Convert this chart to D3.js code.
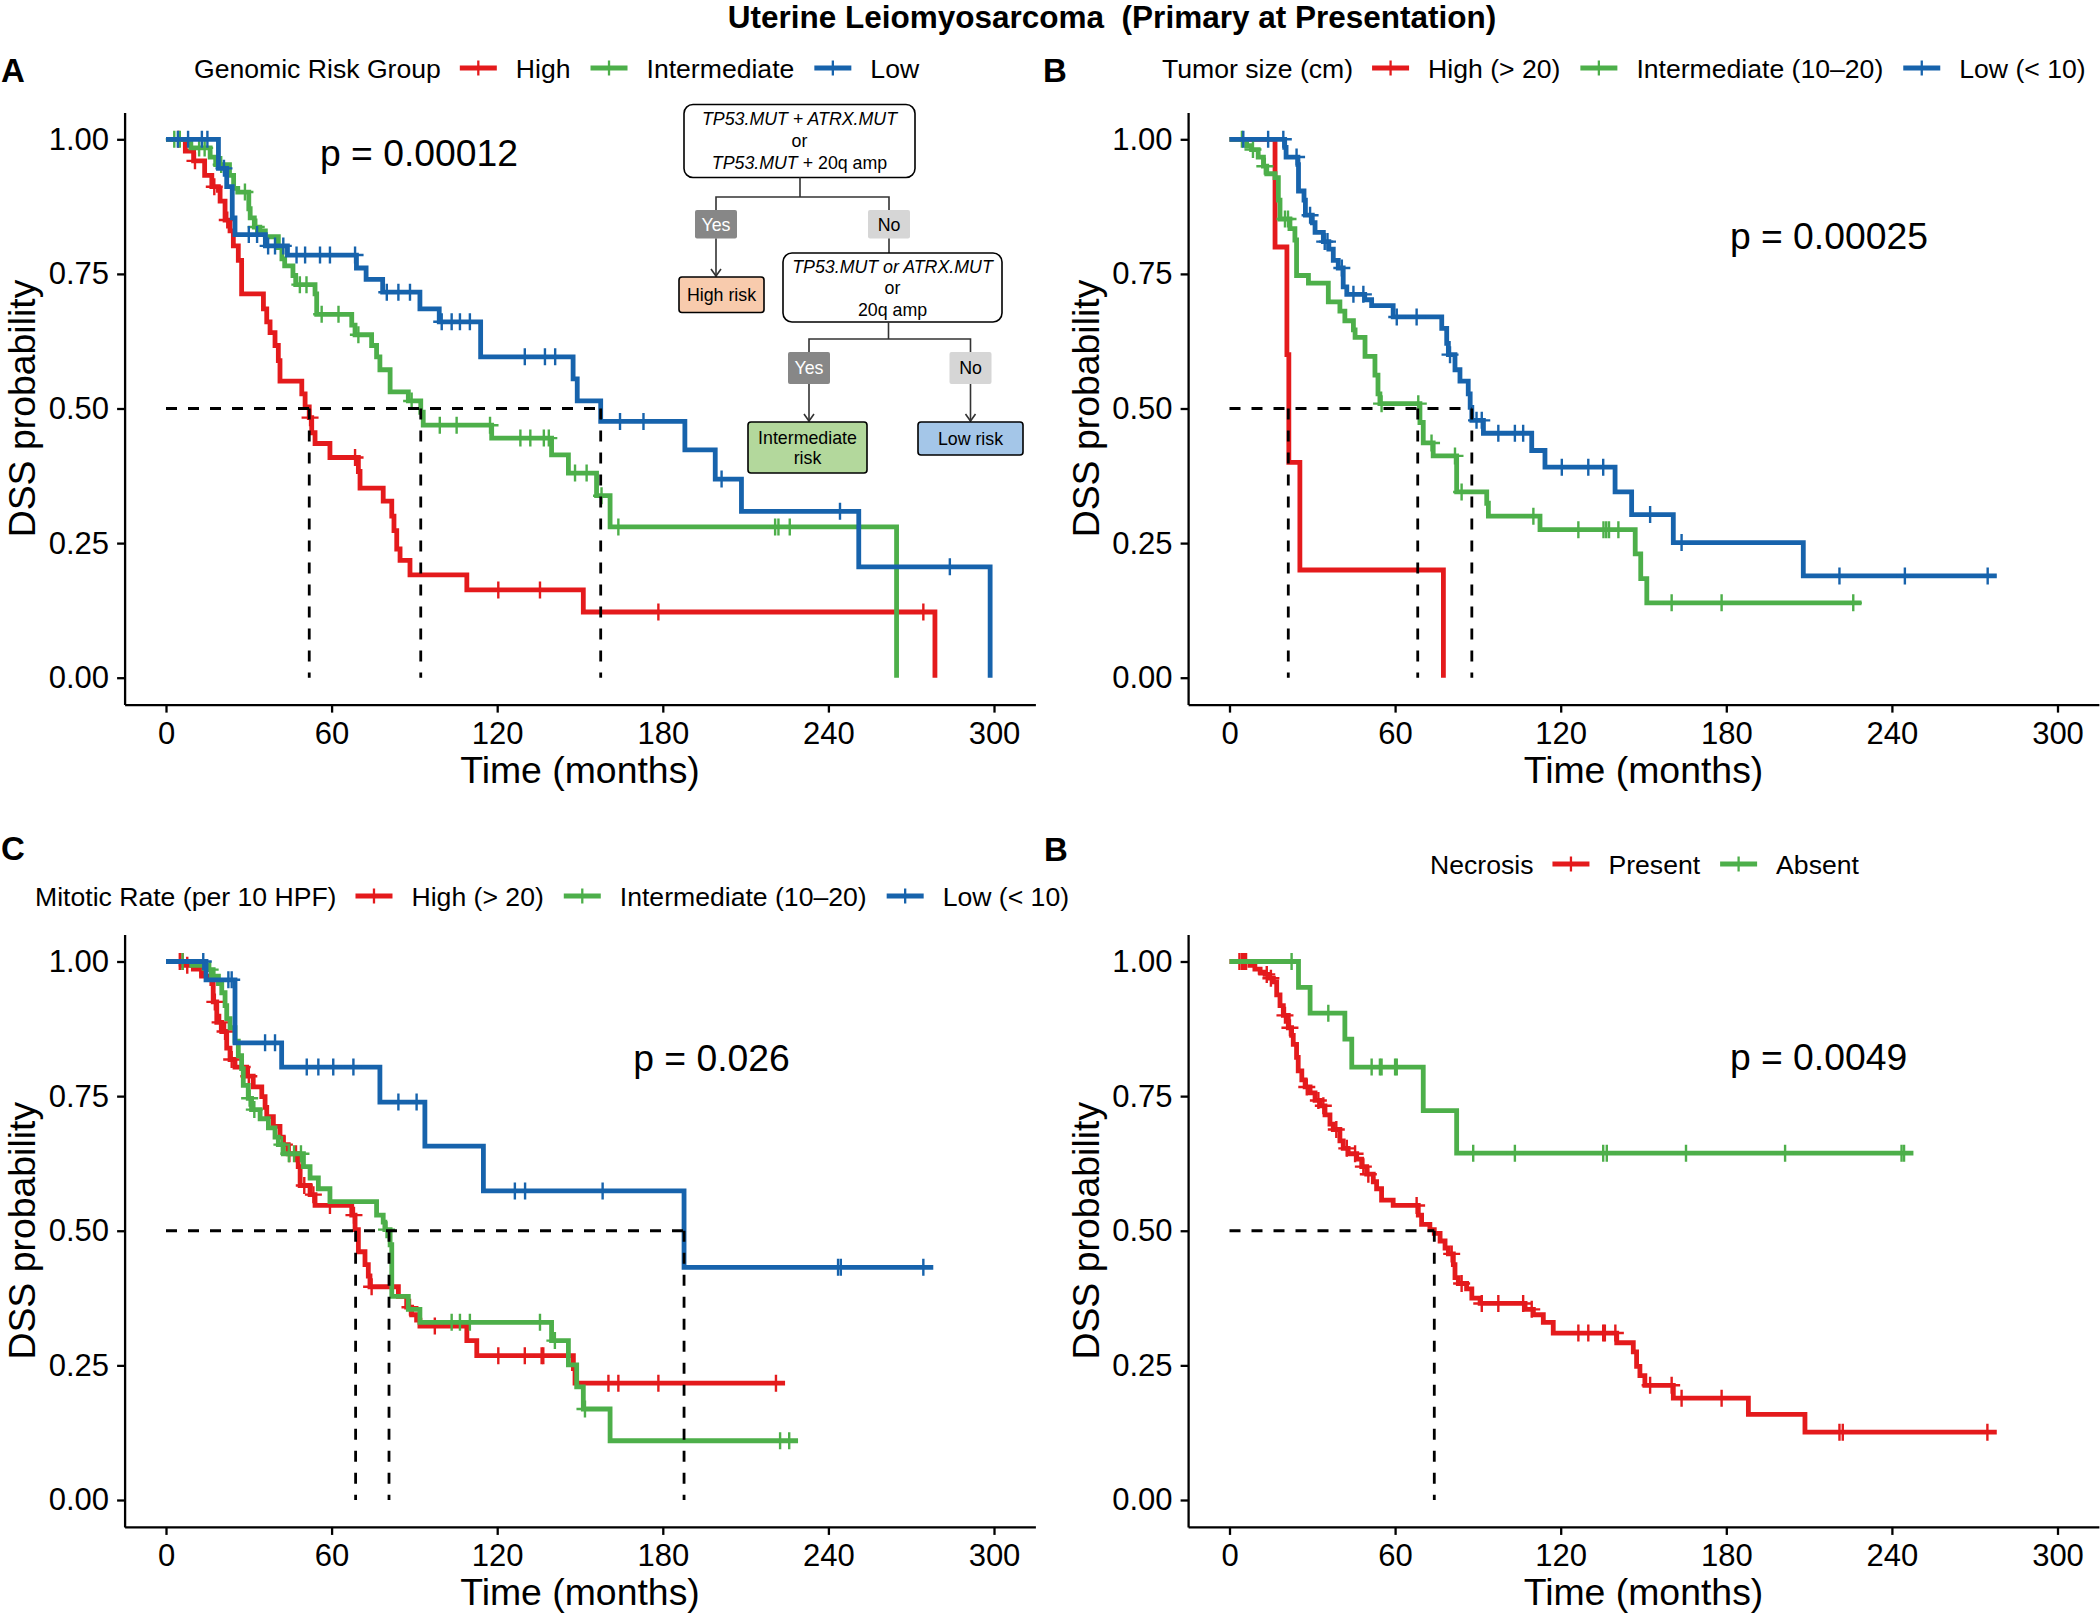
<!DOCTYPE html>
<html>
<head>
<meta charset="utf-8">
<script src="https://cdn.jsdelivr.net/npm/d3@7/dist/d3.min.js"></script>
<style>
html,body{margin:0;padding:0;background:#ffffff;}
svg text{font-family:"Liberation Sans",Arial,Helvetica,sans-serif;}
</style>
</head>
<body>
<svg id="chart" width="2100" height="1614" xmlns="http://www.w3.org/2000/svg"></svg>
<script>
// ---------------- DATA ----------------
const chartTitle = "Uterine Leiomyosarcoma  (Primary at Presentation)";
const timeTicks = [0, 60, 120, 180, 240, 300];
const survTicks = [0, 0.25, 0.5, 0.75, 1];
const groupColors = ["#E41A1C", "#4DAF4A", "#1763AC"];
const xAxisTitle = "Time (months)";
const yAxisTitle = "DSS probability";

// Panel A – Genomic Risk Group
const aTitle = "Genomic Risk Group";
const aNames = ["High", "Intermediate", "Low"];
const aHighT = [7, 10, 14, 16.6, 19, 19.6, 21.4, 23.2, 24.4, 26.2, 27.4, 35.3, 36.5, 37.7, 39.5, 40.7, 41.3, 49.2, 50.4, 51.9, 52.8, 54, 59.4, 69.7, 70.3, 78.7, 81.8, 82.6, 83.6, 84.8, 88.4, 109, 151.2, 278.6];
const aHighS = [0.978, 0.960, 0.933, 0.912, 0.905, 0.885, 0.850, 0.830, 0.802, 0.775, 0.713, 0.685, 0.661, 0.641, 0.617, 0.589, 0.551, 0.527, 0.503, 0.483, 0.455, 0.435, 0.409, 0.383, 0.352, 0.328, 0.300, 0.273, 0.239, 0.218, 0.191, 0.163, 0.122, 0];
const aHighCens = [4.5, 10.5, 17.5, 22.2, 52.2, 68.5, 120.4, 135.5, 178.4, 274.4];
const aHighEnd = 278.6;
const aIntT = [9, 16, 18, 23, 24.5, 26, 30, 30.5, 32, 34, 36, 40.7, 42, 43, 46, 47, 54, 54.6, 67.3, 68.5, 74.5, 76.3, 77.5, 81.2, 87.8, 92.3, 93.2, 118, 139.7, 145.8, 156, 160.9, 264.7];
const aIntS = [0.984, 0.967, 0.953, 0.933, 0.909, 0.902, 0.871, 0.854, 0.837, 0.830, 0.819, 0.799, 0.778, 0.765, 0.747, 0.730, 0.713, 0.675, 0.655, 0.637, 0.617, 0.596, 0.572, 0.531, 0.514, 0.493, 0.469, 0.445, 0.414, 0.380, 0.338, 0.280, 0];
const aIntCens = [3, 5, 12, 14, 20, 28.6, 32.7, 48.5, 50.9, 56.4, 62.5, 69.7, 89, 99.2, 105.3, 117.4, 128.4, 132, 136.9, 138.7, 148.2, 152.4, 157.8, 163.9, 220.7, 221.9, 226];
const aIntEnd = 264.7;
const aLowT = [19, 22, 24, 25, 36, 44, 69, 72.5, 78.5, 92, 99, 114, 147.5, 149, 157.5, 188, 199, 208.5, 251, 298.6];
const aLowS = [0.946, 0.912, 0.854, 0.823, 0.802, 0.785, 0.761, 0.740, 0.716, 0.685, 0.661, 0.596, 0.555, 0.514, 0.476, 0.423, 0.369, 0.309, 0.206, 0];
const aLowCens = [4.3, 8, 13, 15, 21, 30, 33, 37, 39.5, 42.5, 47.3, 50.4, 55.8, 59.4, 68.5, 80, 84.2, 88.4, 99.9, 103.5, 106.5, 110.1, 130, 137.3, 141, 164.5, 173, 201.3, 244.2, 284];
const aLowEnd = 298.6;
const aMedians = [51.9, 92.3, 157.5];
const aPval = "p = 0.00012";

// Panel B – Tumor size
const bTitle = "Tumor size (cm)";
const bNames = ["High (> 20)", "Intermediate (10\u201320)", "Low (< 10)"];
const bHighT = [16.5, 20.8, 21.5, 25.5, 77.5];
const bHighS = [0.8, 0.6, 0.4, 0.2, 0];
const bHighCens = [];
const bHighEnd = 77.5;
const bIntT = [6.2, 8, 10.4, 12.3, 13.5, 16.5, 17.7, 18.3, 21.9, 23.7, 24.3, 28.6, 35.8, 40, 41.8, 44.9, 45.5, 49.1, 52.7, 53.8, 54.5, 69, 70.2, 73.8, 82.3, 93.2, 93.8, 112.5, 147, 149, 151.2];
const bIntS = [0.988, 0.981, 0.967, 0.950, 0.936, 0.929, 0.887, 0.852, 0.834, 0.813, 0.747, 0.733, 0.698, 0.681, 0.663, 0.646, 0.632, 0.597, 0.562, 0.527, 0.509, 0.474, 0.436, 0.412, 0.345, 0.324, 0.300, 0.275, 0.230, 0.184, 0.139];
const bIntCens = [4.5, 8.5, 12.8, 20.1, 21.2, 55.1, 68.4, 73.2, 81.7, 84.1, 110.1, 126.4, 135.5, 136.5, 137.5, 140.9, 160.2, 178.3, 226];
const bIntEnd = 229;
const bLowT = [20, 20.5, 24.8, 25, 27, 27.5, 30, 31, 34, 36, 37.6, 39.4, 41.2, 42.5, 49, 51.5, 59.3, 76.9, 78.7, 79.3, 81.7, 83.5, 86.5, 87.2, 87.8, 92, 109.5, 114.3, 139.7, 145.7, 160.8, 207.9];
const bLowS = [0.985, 0.967, 0.953, 0.904, 0.887, 0.859, 0.845, 0.827, 0.810, 0.796, 0.775, 0.761, 0.726, 0.712, 0.702, 0.691, 0.670, 0.649, 0.621, 0.600, 0.572, 0.551, 0.527, 0.502, 0.478, 0.454, 0.422, 0.391, 0.345, 0.303, 0.251, 0.189];
const bLowCens = [5, 14, 19.5, 24.3, 29.2, 34.5, 35.5, 40.7, 44.9, 48.5, 60.6, 67.8, 79.9, 89.5, 91.4, 97.4, 103.4, 106.4, 120.4, 130, 135.4, 152.4, 163.8, 221, 244.7, 274.7];
const bLowEnd = 278;
const bMedians = [21.3, 68.2, 87.8];
const bPval = "p = 0.00025";

// Panel C – Mitotic rate
const cTitle = "Mitotic Rate (per 10 HPF)";
const cNames = ["High (> 20)", "Intermediate (10\u201320)", "Low (< 10)"];
const cHighT = [6.3, 9.9, 12.9, 16.6, 17.1, 18.4, 20.2, 22, 23.2, 25, 29.2, 31.6, 34.7, 35.9, 36.5, 38.9, 41.3, 42.5, 44.3, 47.9, 48.6, 52.2, 54, 67.3, 68.5, 69.7, 72.1, 73.3, 73.9, 84.2, 87.2, 89, 90.8, 92, 109, 112.6, 147.6, 148.2];
const cHighS = [0.993, 0.986, 0.973, 0.959, 0.925, 0.887, 0.870, 0.839, 0.818, 0.804, 0.787, 0.767, 0.749, 0.729, 0.712, 0.694, 0.674, 0.660, 0.643, 0.619, 0.584, 0.567, 0.547, 0.529, 0.502, 0.461, 0.437, 0.416, 0.396, 0.378, 0.358, 0.344, 0.334, 0.323, 0.296, 0.268, 0.244, 0.217];
const cHighCens = [5, 6, 7.7, 12.5, 17.7, 19.6, 21.4, 23.8, 27.6, 30, 42.9, 44.7, 47.1, 50.1, 53.4, 59.4, 68.1, 74.5, 88.4, 97.4, 120.4, 130, 136.1, 136.7, 160.3, 163.9, 178.4, 221];
const cHighEnd = 224.3;
const cIntT = [9.3, 15.3, 17.1, 19, 20.2, 21.4, 22, 23.2, 25, 26.2, 27.4, 28, 29.8, 31, 34.1, 37.1, 39.5, 40.7, 42.5, 49.8, 52.2, 55.2, 59.4, 76.3, 78.7, 79.3, 81.2, 81.8, 87.8, 92, 139.7, 145.8, 148.8, 151.2, 160.9];
const cIntS = [0.993, 0.985, 0.973, 0.959, 0.942, 0.918, 0.894, 0.877, 0.852, 0.825, 0.801, 0.770, 0.746, 0.725, 0.708, 0.691, 0.674, 0.660, 0.643, 0.619, 0.598, 0.578, 0.554, 0.529, 0.516, 0.502, 0.474, 0.378, 0.354, 0.330, 0.296, 0.251, 0.210, 0.169, 0.110];
const cIntCens = [6, 16, 30.3, 32, 42, 44.5, 46.4, 48.9, 79.9, 103.5, 106.5, 110.1, 135.5, 140.9, 151.8, 222.5, 225.8];
const cIntEnd = 229;
const cLowT = [14.5, 25, 41.9, 77.5, 93.8, 115, 187.7];
const cLowS = [0.966, 0.849, 0.804, 0.739, 0.657, 0.574, 0.432];
const cLowCens = [13.5, 22.6, 23.8, 35.9, 39.5, 51, 55.2, 60.6, 67.9, 84.2, 90.8, 126.4, 130.1, 158.2, 243.5, 244.5, 274.4];
const cLowEnd = 278;
const cMedians = [68.7, 80.8, 187.7];
const cPval = "p = 0.026";

// Panel D (labelled B) – Necrosis
const dTitle = "Necrosis";
const dNames = ["Present", "Absent"];
const dPresT = [7.4, 9.2, 11.1, 12.9, 14.1, 15.9, 17.1, 18.3, 19.5, 21.3, 22.5, 23.1, 24.3, 24.9, 26.2, 27.4, 29.2, 31, 32.8, 34.6, 36.4, 37.6, 40, 41.2, 43, 46.1, 47.9, 49.7, 52.1, 53.3, 55.1, 59.3, 68.4, 69.6, 72.6, 74.2, 76.3, 78.1, 79.3, 81.1, 81.7, 82.9, 85.9, 87.8, 90.8, 107.1, 110.1, 113.7, 117.3, 140.3, 146.3, 147.5, 148.7, 150.5, 160.8, 188, 208.5];
const dPresS = [0.993, 0.986, 0.980, 0.976, 0.969, 0.962, 0.938, 0.918, 0.900, 0.877, 0.863, 0.846, 0.822, 0.797, 0.780, 0.767, 0.756, 0.742, 0.732, 0.715, 0.698, 0.688, 0.667, 0.653, 0.643, 0.633, 0.619, 0.605, 0.591, 0.578, 0.557, 0.547, 0.529, 0.512, 0.502, 0.495, 0.481, 0.468, 0.457, 0.437, 0.413, 0.402, 0.392, 0.375, 0.365, 0.354, 0.344, 0.330, 0.310, 0.292, 0.275, 0.248, 0.231, 0.213, 0.189, 0.159, 0.126];
const dPresCens = [3.6, 4.5, 5.2, 6, 13.5, 15, 20.1, 21.9, 28, 32.2, 34, 38.7, 42.5, 45.5, 48.5, 50.3, 67.8, 80.5, 84.1, 91.4, 97.4, 106.4, 109.5, 126.4, 130, 135.4, 136, 139.8, 152.4, 160.2, 163.8, 178.3, 221, 222.2, 274.6];
const dPresEnd = 278;
const dAbsT = [25, 29.2, 41.8, 44.3, 70.2, 82.3];
const dAbsS = [0.952, 0.904, 0.856, 0.804, 0.723, 0.644];
const dAbsCens = [22.5, 35.8, 51.5, 54.5, 55.1, 60, 60.6, 88.3, 103.4, 135.4, 136.7, 165.4, 201.3, 243.5, 244.4];
const dAbsEnd = 247.8;
const dMedians = [74.2];
const dPval = "p = 0.0049";

// ---------------- DRAWING ----------------
const FONT = '"Liberation Sans", Arial, Helvetica, sans-serif';
const PX = 2.76; // pixels per month
const svg = d3.select("#chart");
svg.append("rect").attr("width", 2100).attr("height", 1614).attr("fill", "#fff");

svg.append("text").attr("x", 1112).attr("y", 28).attr("text-anchor", "middle")
  .attr("font-size", 31.5).attr("font-weight", "bold").style("white-space", "pre")
  .text(chartTitle);

function survAt(T, S, t) {
  let s = 1;
  for (let i = 0; i < T.length; i++) { if (T[i] <= t) s = S[i]; else break; }
  return s;
}

function drawLegend(g, title, names, cols, x0, cy) {
  let cx = x0;
  const t = g.append("text").attr("x", cx).attr("y", cy + 9.5).attr("font-size", 26.6).text(title);
  cx += t.node().getComputedTextLength() + 19;
  names.forEach((n, i) => {
    g.append("line").attr("x1", cx).attr("x2", cx + 37).attr("y1", cy).attr("y2", cy)
      .attr("stroke", cols[i]).attr("stroke-width", 4.8);
    g.append("line").attr("x1", cx + 18.5).attr("x2", cx + 18.5).attr("y1", cy - 7.5).attr("y2", cy + 7.5)
      .attr("stroke", cols[i]).attr("stroke-width", 2.3);
    cx += 37 + 19;
    const tt = g.append("text").attr("x", cx).attr("y", cy + 9.5).attr("font-size", 26.6).text(n);
    cx += tt.node().getComputedTextLength() + 20;
  });
}

function drawPanel(cfg) {
  const g = svg.append("g");
  const x = d3.scaleLinear().domain([0, 300]).range([cfg.x0, cfg.x0 + 300 * PX]);
  const y = d3.scaleLinear().domain([0, 1]).range([cfg.y0, cfg.y1]);
  const xa = d3.scaleLinear().domain([-15, 315]).range([x(-15), x(315)]);
  const ya = d3.scaleLinear().domain([-0.05, 1.05]).range([y(-0.05), y(1.05)]);

  // axes
  const gx = g.append("g").attr("transform", `translate(0,${ya(-0.05)})`)
    .call(d3.axisBottom(xa).tickValues(timeTicks).tickSize(8).tickSizeOuter(0).tickPadding(9));
  gx.attr("font-size", 31).attr("font-family", FONT);
  gx.selectAll("path,line").attr("stroke", "#000").attr("stroke-width", 2.3);
  gx.selectAll("text").attr("fill", "#000");
  const gy = g.append("g").attr("transform", `translate(${xa(-15)},0)`)
    .call(d3.axisLeft(ya).tickValues(survTicks).tickFormat(d3.format(".2f")).tickSize(7.5).tickSizeOuter(0).tickPadding(8));
  gy.attr("font-size", 31).attr("font-family", FONT);
  gy.selectAll("path,line").attr("stroke", "#000").attr("stroke-width", 2.3);
  gy.selectAll("text").attr("fill", "#000");

  g.append("text").attr("x", (xa(-15) + xa(315)) / 2).attr("y", ya(-0.05) + 78)
    .attr("text-anchor", "middle").attr("font-size", 37.4).text(xAxisTitle);
  g.append("text").attr("transform", `translate(${cfg.yTitleX},${y(0.5)}) rotate(-90)`)
    .attr("text-anchor", "middle").attr("font-size", 37.4).text(yAxisTitle);

  // curves
  const line = d3.line().x(d => x(d[0])).y(d => y(d[1])).curve(d3.curveStepAfter);
  cfg.curves.forEach(c => {
    const pts = [[0, 1]].concat(c.T.map((t, i) => [t, c.S[i]]));
    const last = pts[pts.length - 1];
    if (c.end > last[0]) pts.push([c.end, last[1]]);
    g.append("path").attr("d", line(pts)).attr("fill", "none")
      .attr("stroke", c.color).attr("stroke-width", 4.8).attr("stroke-linejoin", "miter");
    const cg = g.append("g").attr("stroke", c.color).attr("stroke-width", 2.4);
    c.C.forEach(t => {
      const px = x(t), py = y(survAt(c.T, c.S, t));
      cg.append("path").attr("d", `M${px - 8.5},${py}H${px + 8.5}M${px},${py - 8.5}V${py + 8.5}`);
    });
  });

  // median lines
  const mg = g.append("g").attr("stroke", "#000").attr("stroke-width", 2.8).attr("stroke-dasharray", "11,11").attr("fill", "none");
  mg.append("line").attr("x1", x(0)).attr("x2", x(d3.max(cfg.medians))).attr("y1", y(0.5)).attr("y2", y(0.5));
  cfg.medians.forEach(m => {
    mg.append("line").attr("x1", x(m)).attr("x2", x(m)).attr("y1", y(0.5)).attr("y2", y(0));
  });

  // p-value
  g.append("text").attr("x", x(cfg.pPos[0])).attr("y", y(cfg.pPos[1])).attr("font-size", 37.3).text(cfg.pval);

  // panel label + legend
  g.append("text").attr("x", cfg.lab[1]).attr("y", cfg.lab[2]).attr("font-size", 33).attr("font-weight", "bold").text(cfg.lab[0]);
  drawLegend(g, cfg.legTitle, cfg.names, cfg.curves.map(c => c.color), cfg.legX, cfg.legY);
  return g;
}

const panels = [
  { x0: 166, y0: 677.7, y1: 139.3, yTitleX: 35, lab: ["A", 1, 82], legTitle: aTitle, names: aNames, legX: 194, legY: 68,
    medians: aMedians, pval: aPval, pPos: [55.8, 0.95],
    curves: [
      { T: aHighT, S: aHighS, C: aHighCens, end: aHighEnd, color: groupColors[0] },
      { T: aIntT, S: aIntS, C: aIntCens, end: aIntEnd, color: groupColors[1] },
      { T: aLowT, S: aLowS, C: aLowCens, end: aLowEnd, color: groupColors[2] }] },
  { x0: 1229.5, y0: 677.7, y1: 139.3, yTitleX: 1099, lab: ["B", 1043, 82], legTitle: bTitle, names: bNames, legX: 1162, legY: 68,
    medians: bMedians, pval: bPval, pPos: [181.3, 0.797],
    curves: [
      { T: bHighT, S: bHighS, C: bHighCens, end: bHighEnd, color: groupColors[0] },
      { T: bIntT, S: bIntS, C: bIntCens, end: bIntEnd, color: groupColors[1] },
      { T: bLowT, S: bLowS, C: bLowCens, end: bLowEnd, color: groupColors[2] }] },
  { x0: 166, y0: 1500, y1: 961.5, yTitleX: 35, lab: ["C", 1, 860], legTitle: cTitle, names: cNames, legX: 35, legY: 896,
    medians: cMedians, pval: cPval, pPos: [169.3, 0.796],
    curves: [
      { T: cHighT, S: cHighS, C: cHighCens, end: cHighEnd, color: groupColors[0] },
      { T: cIntT, S: cIntS, C: cIntCens, end: cIntEnd, color: groupColors[1] },
      { T: cLowT, S: cLowS, C: cLowCens, end: cLowEnd, color: groupColors[2] }] },
  { x0: 1229.5, y0: 1500, y1: 961.5, yTitleX: 1099, lab: ["B", 1044, 861], legTitle: dTitle, names: dNames, legX: 1430, legY: 864,
    medians: dMedians, pval: dPval, pPos: [181.3, 0.798],
    curves: [
      { T: dPresT, S: dPresS, C: dPresCens, end: dPresEnd, color: groupColors[0] },
      { T: dAbsT, S: dAbsS, C: dAbsCens, end: dAbsEnd, color: groupColors[1] }] }
];
panels.forEach(drawPanel);

// ---------------- FLOWCHART (panel A inset) ----------------
const fg = svg.append("g");
const FS = 17.8;
function box(x, y, w, h, rx, fill, stroke) {
  fg.append("rect").attr("x", x).attr("y", y).attr("width", w).attr("height", h).attr("rx", rx)
    .attr("fill", fill).attr("stroke", stroke || "none").attr("stroke-width", 1.6);
}
function txt(x, y, parts, fill) {
  const t = fg.append("text").attr("x", x).attr("y", y).attr("text-anchor", "middle").attr("font-size", FS).attr("fill", fill || "#000");
  parts.forEach(p => t.append("tspan").attr("font-style", p[1] ? "italic" : "normal").text(p[0]));
}
function conn(d) { fg.append("path").attr("d", d).attr("fill", "none").attr("stroke", "#333").attr("stroke-width", 1.6); }
function arrow(xp, y1, y2) {
  conn(`M${xp},${y1}V${y2}`);
  conn(`M${xp - 5},${y2 - 7}L${xp},${y2}L${xp + 5},${y2 - 7}`);
}
box(684, 104.5, 231, 73, 9, "#fff", "#000");
txt(799.5, 125, [["TP53.MUT + ATRX.MUT", true]]);
txt(799.5, 147, [["or", false]]);
txt(799.5, 169, [["TP53.MUT", true], [" + 20q amp", false]]);
conn("M800,177.5V197M716,210V197H889V210");
box(695, 210, 42, 28.5, 2, "#878787");
txt(716, 230.5, [["Yes", false]], "#fff");
box(868, 210, 42, 28.5, 2, "#D6D6D6");
txt(889, 230.5, [["No", false]]);
arrow(716, 238.5, 276);
box(679, 277, 85, 35.5, 3, "#F8CBAD", "#000");
txt(721.5, 301, [["High risk", false]]);
conn("M889,238.5V253");
box(783, 253, 219, 69, 9, "#fff", "#000");
txt(892.5, 272.5, [["TP53.MUT or ATRX.MUT", true]]);
txt(892.5, 293.5, [["or", false]]);
txt(892.5, 316, [["20q amp", false]]);
conn("M888.5,322V339M809,352V339H970.5V352");
box(788, 352, 42, 32, 2, "#878787");
txt(809, 374, [["Yes", false]], "#fff");
box(949.5, 352, 42, 32, 2, "#D6D6D6");
txt(970.5, 374, [["No", false]]);
arrow(809, 384, 421);
arrow(970.5, 384, 421);
box(748, 422, 119, 51, 3, "#B3D89C", "#000");
txt(807.5, 444, [["Intermediate", false]]);
txt(807.5, 464, [["risk", false]]);
box(918, 422, 105, 33, 3, "#A4C6E8", "#000");
txt(970.5, 445, [["Low risk", false]]);
</script>
</body>
</html>
